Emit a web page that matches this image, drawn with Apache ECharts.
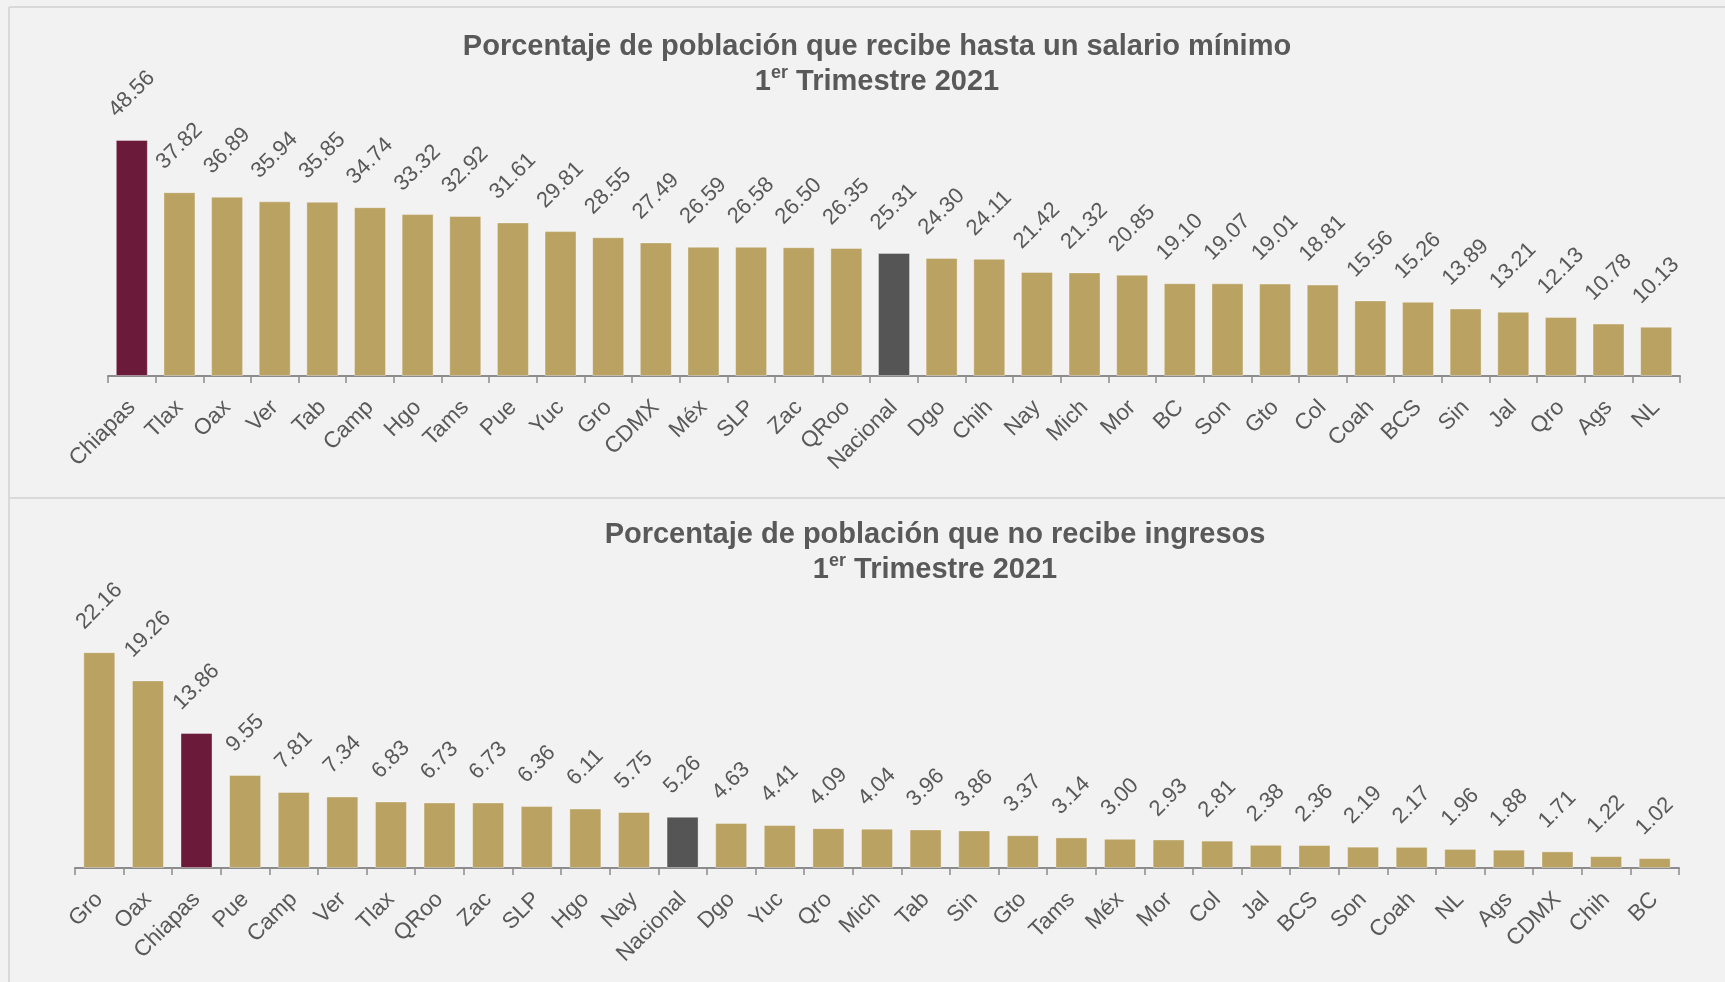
<!DOCTYPE html>
<html>
<head>
<meta charset="utf-8">
<script src="https://cdn.jsdelivr.net/npm/echarts@6/dist/echarts.min.js"></script>
<style>
html,body{margin:0;padding:0;background:#F2F2F2;}
#chart{width:1725px;height:982px;}
</style>
</head>
<body>
<div id="chart"></div>
<script>
// ---- Data ----
const titleTop = 'Porcentaje de población que recibe hasta un salario mínimo';
const titleBottom = 'Porcentaje de población que no recibe ingresos';
const periodNum = '1';
const periodSup = 'er';
const periodRest = ' Trimestre 2021';

const catsTop = ['Chiapas','Tlax','Oax','Ver','Tab','Camp','Hgo','Tams','Pue','Yuc','Gro','CDMX','Méx','SLP','Zac','QRoo','Nacional','Dgo','Chih','Nay','Mich','Mor','BC','Son','Gto','Col','Coah','BCS','Sin','Jal','Qro','Ags','NL'];
const valsTop = [48.56,37.82,36.89,35.94,35.85,34.74,33.32,32.92,31.61,29.81,28.55,27.49,26.59,26.58,26.50,26.35,25.31,24.30,24.11,21.42,21.32,20.85,19.10,19.07,19.01,18.81,15.56,15.26,13.89,13.21,12.13,10.78,10.13];

const catsBot = ['Gro','Oax','Chiapas','Pue','Camp','Ver','Tlax','QRoo','Zac','SLP','Hgo','Nay','Nacional','Dgo','Yuc','Qro','Mich','Tab','Sin','Gto','Tams','Méx','Mor','Col','Jal','BCS','Son','Coah','NL','Ags','CDMX','Chih','BC'];
const valsBot = [22.16,19.26,13.86,9.55,7.81,7.34,6.83,6.73,6.73,6.36,6.11,5.75,5.26,4.63,4.41,4.09,4.04,3.96,3.86,3.37,3.14,3.00,2.93,2.81,2.38,2.36,2.19,2.17,1.96,1.88,1.71,1.22,1.02];

// ---- Styles ----
const FONT = '"Liberation Sans", Arial, sans-serif';
const GOLD = '#BAA263';
const MAROON = '#6B1A39';
const GRAY = '#555555';
const TXT = '#595959';
const LBL = 22;
const AXL = 22.5;

const measCtx = document.createElement('canvas').getContext('2d');
measCtx.font = LBL + 'px ' + FONT;
function labelDistance(str){
  const w = measCtx.measureText(str).width;
  return 21 + (w + 0.716*LBL) * 0.3535;
}
function colorFor(c){
  if (c === 'Chiapas') return MAROON;
  if (c === 'Nacional') return GRAY;
  return GOLD;
}
function buildData(cats, vals){
  return vals.map((v,i)=>{
    const s = v.toFixed(2);
    return {
      value: v,
      itemStyle: {color: colorFor(cats[i])},
      label: {distance: labelDistance(s)}
    };
  });
}

const chart = echarts.init(document.getElementById('chart'), null, {renderer:'canvas'});

function xAxisCfg(cats, idx){
  return {
    type:'category', gridIndex: idx, data: cats,
    boundaryGap: true,
    axisLine:{show:true, lineStyle:{color:'#8C8C8C', width:2}},
    axisTick:{show:true, length:7, interval:0, lineStyle:{color:'#8C8C8C', width:1.5}},
    axisLabel:{interval:0, rotate:45, fontSize:AXL, color:TXT, fontFamily:FONT, margin:28}
  };
}
function seriesCfg(cats, vals, idx){
  return {
    type:'bar', xAxisIndex: idx, yAxisIndex: idx,
    data: buildData(cats, vals),
    barWidth: 32,
    itemStyle:{borderColor:'rgba(255,255,255,0.35)', borderWidth:1},
    label:{
      show:true, position:'top', rotate:45, align:'center', verticalAlign:'middle',
      fontSize:LBL, color:TXT, fontFamily:FONT,
      formatter: p => p.value.toFixed(2)
    }
  };
}
function titleText(main){
  return '{b|' + main + '}\n{b|' + periodNum + '}{sup|' + periodSup + '}{b|' + periodRest + '}';
}
const richStyle = {
  b:{fontSize:29, fontWeight:'bold', color:TXT, fontFamily:FONT, lineHeight:35},
  sup:{fontSize:18, fontWeight:'bold', color:TXT, fontFamily:FONT, lineHeight:35, verticalAlign:'top', padding:[0,0,10,0]}
};

chart.setOption({
  backgroundColor:'#F2F2F2',
  animation:false,
  title:[
    {text: titleText(titleTop), left: 872, top: 24, textAlign:'center', textStyle:{rich: richStyle, align:'center'}},
    {text: titleText(titleBottom), left: 930, top: 512, textAlign:'center', textStyle:{rich: richStyle, align:'center'}}
  ],
  grid:[
    {left:108, right:45, top:133, height:243, containLabel:false},
    {left:75, right:46, top:624.5, height:243.5, containLabel:false}
  ],
  xAxis:[xAxisCfg(catsTop,0), xAxisCfg(catsBot,1)],
  yAxis:[
    {type:'value', gridIndex:0, min:0, max:50, show:false, splitLine:{show:false}},
    {type:'value', gridIndex:1, min:0, max:25, show:false, splitLine:{show:false}}
  ],
  series:[seriesCfg(catsTop, valsTop, 0), seriesCfg(catsBot, valsBot, 1)],
  graphic:[
    {type:'line', shape:{x1:9, y1:7, x2:1725, y2:7}, style:{stroke:'#D9D9D9', lineWidth:2}, silent:true},
    {type:'line', shape:{x1:9, y1:7, x2:9, y2:982}, style:{stroke:'#D9D9D9', lineWidth:2}, silent:true},
    {type:'line', shape:{x1:9, y1:498, x2:1725, y2:498}, style:{stroke:'#D9D9D9', lineWidth:2}, silent:true}
  ]
});
</script>
</body>
</html>
